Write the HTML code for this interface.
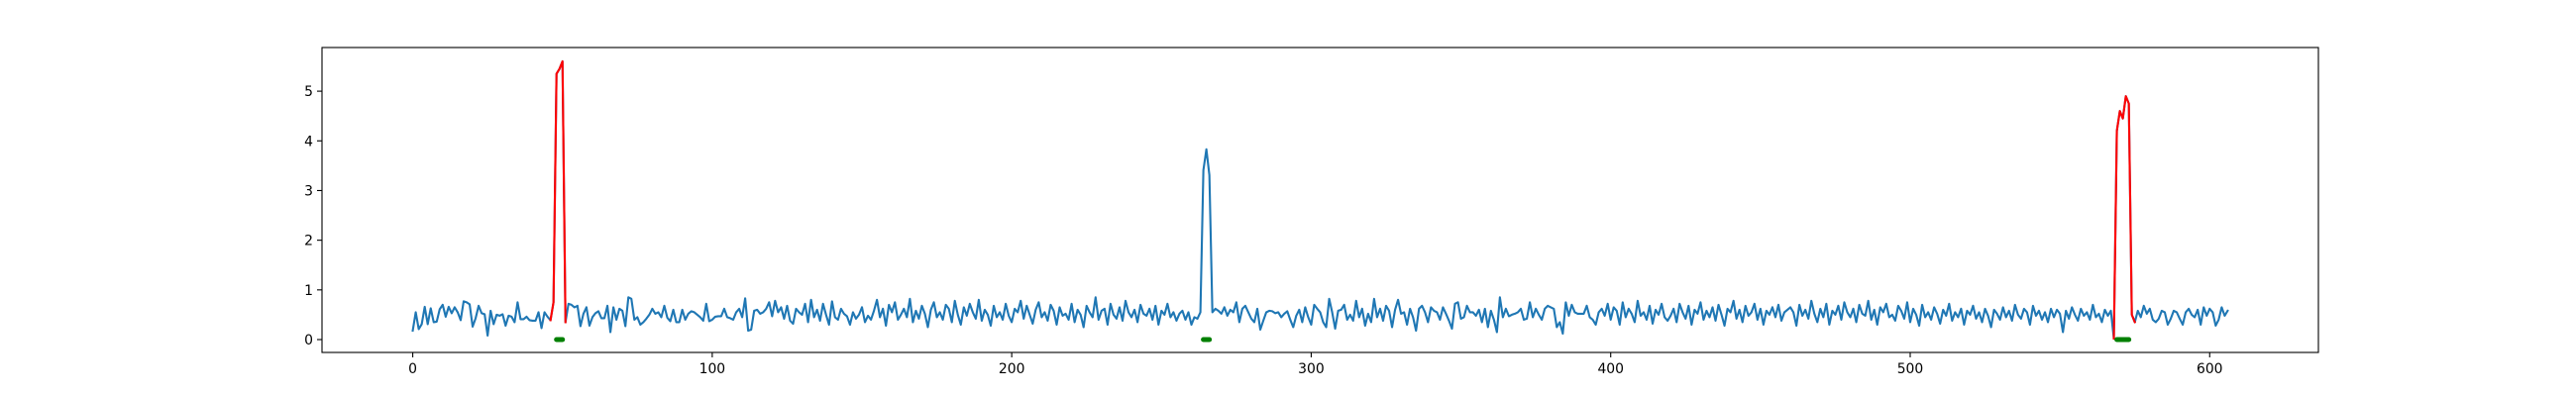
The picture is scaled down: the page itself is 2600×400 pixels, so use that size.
<!DOCTYPE html>
<html><head><meta charset="utf-8"><style>
html,body{margin:0;padding:0;background:#fff;}
svg{display:block;font-family:"DejaVu Sans","Liberation Sans",sans-serif;}
</style></head><body>
<svg id="chart" width="2600" height="400" viewBox="0 0 2600 400" xmlns="http://www.w3.org/2000/svg">
<rect x="0" y="0" width="2600" height="400" fill="#fff"/>
<g id="plot"></g>
</svg>
<script>
const values = [
0.18,0.55,0.21,0.31,0.66,0.31,0.63,0.35,0.36,0.61,0.70,0.46,0.66,0.53,0.65,0.55,0.39,0.77,0.75,0.71,
0.26,0.43,0.68,0.53,0.51,0.08,0.58,0.31,0.50,0.48,0.51,0.28,0.48,0.46,0.35,0.75,0.41,0.41,0.46,0.39,
0.38,0.38,0.55,0.23,0.55,0.46,0.39,0.75,5.35,5.45,5.60,0.35,0.72,0.70,0.65,0.68,0.27,0.52,0.65,0.28,
0.45,0.53,0.57,0.43,0.43,0.68,0.15,0.65,0.40,0.62,0.58,0.27,0.85,0.82,0.40,0.45,0.30,0.35,0.42,0.50,
0.62,0.52,0.55,0.45,0.68,0.44,0.37,0.60,0.35,0.35,0.60,0.40,0.52,0.57,0.55,0.50,0.45,0.38,0.72,0.37,
0.40,0.46,0.47,0.47,0.62,0.45,0.43,0.40,0.55,0.62,0.45,0.83,0.18,0.20,0.58,0.60,0.52,0.55,0.62,0.75,
0.47,0.78,0.55,0.65,0.42,0.68,0.38,0.32,0.62,0.55,0.50,0.72,0.35,0.80,0.45,0.60,0.38,0.72,0.50,0.30,
0.77,0.45,0.40,0.62,0.52,0.47,0.30,0.55,0.42,0.50,0.65,0.35,0.48,0.40,0.58,0.80,0.45,0.62,0.28,0.70,
0.55,0.75,0.40,0.50,0.62,0.45,0.82,0.35,0.58,0.42,0.68,0.52,0.25,0.60,0.75,0.45,0.55,0.40,0.70,0.62,
0.35,0.78,0.50,0.30,0.65,0.48,0.72,0.55,0.42,0.80,0.38,0.60,0.50,0.28,0.68,0.45,0.55,0.40,0.72,0.48,
0.35,0.62,0.55,0.78,0.42,0.68,0.50,0.32,0.60,0.75,0.45,0.55,0.38,0.70,0.58,0.30,0.65,0.48,0.52,0.40,
0.72,0.35,0.60,0.50,0.25,0.68,0.55,0.45,0.85,0.40,0.58,0.62,0.30,0.72,0.50,0.42,0.65,0.38,0.78,0.55,
0.45,0.60,0.35,0.70,0.52,0.48,0.62,0.40,0.68,0.30,0.58,0.50,0.72,0.45,0.55,0.38,0.52,0.58,0.40,0.55,
0.30,0.45,0.42,0.55,3.41,3.83,3.31,0.55,0.62,0.58,0.52,0.65,0.48,0.60,0.55,0.75,0.35,0.62,0.68,0.55,
0.42,0.35,0.62,0.20,0.38,0.55,0.58,0.57,0.53,0.55,0.45,0.52,0.57,0.40,0.25,0.48,0.60,0.35,0.65,0.45,
0.30,0.70,0.62,0.55,0.35,0.25,0.82,0.55,0.22,0.58,0.60,0.70,0.40,0.50,0.38,0.78,0.45,0.62,0.28,0.52,
0.35,0.82,0.45,0.62,0.38,0.68,0.58,0.25,0.60,0.80,0.52,0.55,0.30,0.62,0.45,0.18,0.62,0.68,0.55,0.35,
0.65,0.58,0.55,0.40,0.65,0.52,0.38,0.22,0.72,0.75,0.42,0.45,0.68,0.55,0.55,0.48,0.60,0.35,0.62,0.25,
0.58,0.40,0.15,0.85,0.45,0.62,0.47,0.50,0.52,0.55,0.62,0.40,0.42,0.75,0.45,0.62,0.50,0.40,0.62,0.68,
0.65,0.62,0.25,0.35,0.12,0.75,0.48,0.70,0.55,0.52,0.52,0.52,0.68,0.45,0.40,0.30,0.55,0.62,0.48,0.72,
0.40,0.65,0.58,0.30,0.75,0.45,0.62,0.52,0.35,0.78,0.48,0.55,0.40,0.68,0.32,0.60,0.50,0.72,0.45,0.38,
0.48,0.62,0.35,0.72,0.55,0.42,0.68,0.30,0.60,0.52,0.75,0.40,0.58,0.45,0.65,0.38,0.70,0.50,0.28,0.62,
0.55,0.78,0.42,0.60,0.35,0.68,0.48,0.55,0.72,0.40,0.62,0.30,0.58,0.50,0.65,0.45,0.70,0.38,0.55,0.60,
0.65,0.55,0.28,0.70,0.48,0.60,0.42,0.78,0.52,0.35,0.62,0.45,0.72,0.30,0.58,0.50,0.68,0.40,0.75,0.55,
0.45,0.62,0.35,0.70,0.52,0.48,0.78,0.40,0.60,0.30,0.65,0.55,0.72,0.45,0.50,0.38,0.68,0.58,0.42,0.75,
0.35,0.62,0.50,0.28,0.70,0.45,0.55,0.40,0.65,0.52,0.32,0.60,0.48,0.72,0.38,0.55,0.45,0.62,0.30,0.58,
0.50,0.68,0.42,0.55,0.35,0.62,0.48,0.25,0.60,0.52,0.40,0.65,0.45,0.58,0.38,0.70,0.50,0.42,0.62,0.55,
0.30,0.68,0.48,0.58,0.40,0.55,0.35,0.62,0.45,0.60,0.52,0.15,0.58,0.42,0.65,0.50,0.38,0.62,0.48,0.55,
0.40,0.70,0.45,0.52,0.35,0.60,0.48,0.58,0.02,4.20,4.60,4.45,4.90,4.75,0.50,0.35,0.58,0.45,0.68,0.52,
0.62,0.40,0.35,0.42,0.58,0.55,0.30,0.42,0.58,0.55,0.42,0.30,0.55,0.62,0.50,0.45,0.60,0.30,0.65,0.48,
0.62,0.55,0.28,0.40,0.65,0.48,0.58
];
const xTicks = [0,100,200,300,400,500,600];
const yTicks = [0,1,2,3,4,5];
const anomalyStarts = [46,568];
const anomalyEnds = [51,575];
const markStarts = [48,264,569];
const markEnds = [50,266,573];

const L=325,R=2340,T=48,B=356;
const n=values.length;
const xmin=-0.05*(n-1), xmax=(n-1)*1.05;
const vmin=Math.min(...values), vmax=Math.max(...values), vr=vmax-vmin;
const ymin=vmin-0.05*vr, ymax=vmax+0.05*vr;
const X=v=>L+(v-xmin)/(xmax-xmin)*(R-L);
const Y=v=>B-(v-ymin)/(ymax-ymin)*(B-T);
const NS='http://www.w3.org/2000/svg';
const g=document.getElementById('plot');
function mk(tag,attrs){const e=document.createElementNS(NS,tag);for(const k in attrs)e.setAttribute(k,attrs[k]);g.appendChild(e);return e;}

let d='';
values.forEach((v,i)=>{d+=(i?'L':'M')+X(i).toFixed(2)+' '+Y(v).toFixed(2);});
const line=mk('path',{d:d,fill:'none',stroke:'#1f77b4','stroke-width':2.1,'stroke-linejoin':'round','stroke-linecap':'square'});



anomalyStarts.forEach((s,k)=>{
  let dd='';
  for(let i=s;i<=anomalyEnds[k];i++){dd+=(i>s?'L':'M')+X(i).toFixed(2)+' '+Y(values[i]).toFixed(2);}
  const p=mk('path',{d:dd,fill:'none',stroke:'#ff0000','stroke-width':2.1,'stroke-linejoin':'round','stroke-linecap':'square'});
  
  
});
markStarts.forEach((s,k)=>{
  const m=mk('line',{x1:X(s),x2:X(markEnds[k]),y1:Y(0),y2:Y(0),stroke:'#008000','stroke-width':5,'stroke-linecap':'round'});
  
  
});

const fr=mk('rect',{x:L,y:T,width:R-L,height:B-T,fill:'none',stroke:'#000','stroke-width':1.1});



xTicks.forEach(t=>{
  const tk=mk('line',{x1:X(t),x2:X(t),y1:B,y2:B+5,stroke:'#000','stroke-width':1.1});
  
  
  const tx=mk('text',{x:X(t),y:B+21,'text-anchor':'middle','font-size':'13.9px',fill:'#000'});
  tx.textContent=t;
  
  
});
yTicks.forEach(t=>{
  const tk=mk('line',{x1:L-5,x2:L,y1:Y(t),y2:Y(t),stroke:'#000','stroke-width':1.1});
  
  
  const tx=mk('text',{x:L-9,y:Y(t)+5,'text-anchor':'end','font-size':'13.9px',fill:'#000'});
  tx.textContent=t;
  
  
});
</script>
</body></html>
